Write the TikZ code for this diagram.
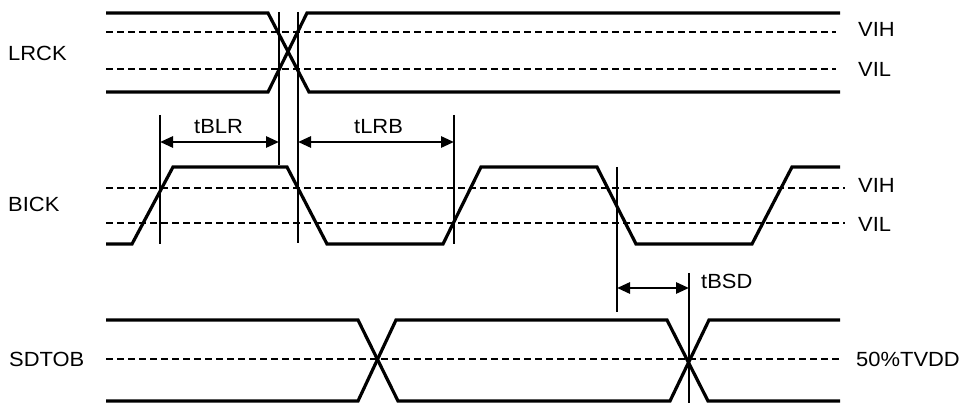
\documentclass[tikz,border=0pt]{standalone}
\usepackage{fontspec}
\setmainfont{Liberation Sans}[FakeStretch=1.07]
\usetikzlibrary{arrows.meta}
\begin{document}
\begin{tikzpicture}[x=1pt,y=-1pt,
  wave/.style={line width=3.2pt,line join=miter,line cap=butt},
  level/.style={line width=2.3pt,dash pattern=on 7pt off 4pt},
  mid/.style={line width=1.9pt,dash pattern=on 7pt off 4pt},
  mark line/.style={line width=1.2pt},
  meas/.style={line width=2.8pt,{Triangle[length=13pt,width=11pt]}-{Triangle[length=13pt,width=11pt]}},
  lbl/.style={inner sep=0pt,anchor=base west,font=\fontsize{20.5}{24}\selectfont}]
\useasboundingbox (0,0) rectangle (962,403);
% ---- LRCK ----
\draw[level] (106,32) -- (836,32);
\draw[level] (106,69) -- (836,69);
\draw[wave] (106,13) -- (268,13) -- (309,92) -- (840,92);
\draw[wave] (106,92) -- (268,92) -- (307,13) -- (840,13);
% ---- BICK ----
\draw[level] (106,188) -- (845,188);
\draw[level] (106,223) -- (845,223);
\draw[wave] (106,244) -- (132,244) -- (173,167) -- (287,167) -- (327,244) -- (443,244)
  -- (481,167) -- (597,167) -- (636,244) -- (752,244) -- (792,167) -- (840,167);
% ---- SDTOB ----
\draw[mid] (106,359) -- (840,359);
\draw[wave] (106,320) -- (358,320) -- (398,401) -- (670,401) -- (709,320) -- (840,320);
\draw[wave] (106,401) -- (358,401) -- (396,320) -- (667,320) -- (708,401) -- (840,401);
% ---- reference lines ----
\coordinate (v1t) at (279,12);  \coordinate (v1b) at (279,165);
\coordinate (v2t) at (298,12);  \coordinate (v2b) at (298,243);
\coordinate (v3t) at (160,115); \coordinate (v3b) at (160,244);
\coordinate (v4t) at (454,115); \coordinate (v4b) at (454,244);
\coordinate (v5t) at (617,167); \coordinate (v5b) at (617,312);
\coordinate (v6t) at (689,273); \coordinate (v6b) at (689,403);
\foreach \v in {1,...,6} \draw[mark line] (v\v t) -- (v\v b);
% ---- measurements ----
\coordinate (a1) at (160,142); \coordinate (a2) at (279,142);
\coordinate (a3) at (298,142); \coordinate (a4) at (454,142);
\coordinate (a5) at (617,288); \coordinate (a6) at (689,288);
\draw[meas] (a1) -- (a2);
\draw[meas] (a3) -- (a4);
\draw[meas] (a5) -- (a6);
% ---- labels ----
\node[lbl] (lrck) at (8,60.7) {LRCK};
\node[lbl] (bick) at (8,212) {BICK};
\node[lbl] (sdtob) at (9,366.7) {SDTOB};
\node[lbl] (vih1) at (858,37) {VIH};
\node[lbl] (vil1) at (858,77) {VIL};
\node[lbl] (vih2) at (858,193) {VIH};
\node[lbl] (vil2) at (858,232) {VIL};
\node[lbl] (tvdd) at (856,367) {50\%TVDD};
\node[lbl] (tblr) at (194,134) {tBLR};
\node[lbl] (tlrb) at (354,133.5) {tLRB};
\node[lbl] (tbsd) at (701,289) {tBSD};
\end{tikzpicture}
\end{document}
